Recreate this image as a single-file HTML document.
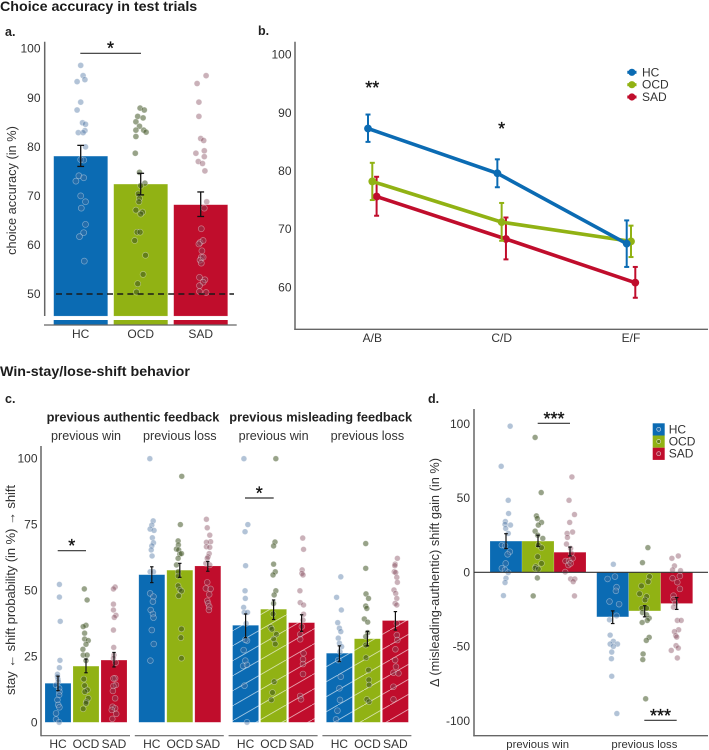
<!DOCTYPE html>
<html lang="en">
<head>
<meta charset="utf-8">
<title>Choice accuracy and win-stay/lose-shift behavior</title>
<style>
html,body{margin:0;padding:0;background:#fff;}
svg{display:block;filter:blur(0.35px);}
text{font-family:"Liberation Sans",sans-serif;fill:#333;}
.title{font-size:14.25px;font-weight:bold;fill:#1c1c1c;}
.plabel{font-size:12.5px;font-weight:bold;fill:#222;}
.axt{font-size:12.8px;}
.axc{font-size:13.2px;}
.tick{font-size:12px;}
.head{font-size:12.8px;font-weight:bold;fill:#222;}
.sub{font-size:12.6px;}
.subd{font-size:11.3px;}
.star{font-size:18px;fill:#111;stroke:#111;stroke-width:0.3px;}
</style>
</head>
<body>
<svg id="fig" xmlns="http://www.w3.org/2000/svg" width="709" height="750" viewBox="0 0 709 750">
<defs>
<pattern id="hatch" patternUnits="userSpaceOnUse" width="26" height="15">
<line x1="-2.6" y1="16.5" x2="28.6" y2="-1.5" stroke="#fff" stroke-opacity="0.62" stroke-width="0.9"/>
</pattern>
</defs>
<rect x="0" y="0" width="709" height="750" fill="#fff"/>
<text class="title" x="0" y="11">Choice accuracy in test trials</text>
<text class="title" x="0" y="376">Win-stay/lose-shift behavior</text>
<text class="plabel" x="5" y="36">a.</text>
<text class="plabel" x="258" y="35">b.</text>
<text class="plabel" x="5" y="403">c.</text>
<text class="plabel" x="428" y="403">d.</text>
<text class="axt" transform="translate(16,190.5) rotate(-90)" text-anchor="middle">choice accuracy (in %)</text>
<text class="axc" transform="translate(15,590) rotate(-90)" text-anchor="middle" textLength="210">stay ← shift probability (in %) → shift</text>
<text class="axt" transform="translate(439,572.5) rotate(-90)" text-anchor="middle">Δ (misleading-authentic) shift gain (in %)</text>
<text class="head" x="133" y="421.5" text-anchor="middle">previous authentic feedback</text>
<text class="head" x="320.7" y="421.5" text-anchor="middle">previous misleading feedback</text>
<g id="layer"></g>
</svg>
<script>
// ---------- Panel a ----------
const accCategories = ['HC', 'OCD', 'SAD'];
const accTicks = [50, 60, 70, 80, 90, 100];
const accMeans = [78.1, 72.4, 68.2];
const accErrLow = [76, 70.2, 65.8];
const accErrHigh = [80.3, 74.6, 70.8];
const accChance = 50;
const accPointsHC = [96.6,94.5,93.3,93.7,89.1,87.5,84.9,84.6,82.9,83.3,82.9,80,77.4,77.3,74.1,73,73.7,70,68.8,67.5,64.2,62.5,61.7,56.7];
const accJitterHC = [0,4,-6,7,0,-6,3,8,-4,7,4,8,0,5,-3,-8,5,0,8,1,8,5,-2,6];
const accPointsOCD = [87.9,87.5,86.2,85.9,85.1,84.2,83.4,83,83.4,82.1,78.7,74.8,72.6,72.1,70.4,69.5,68.8,67.1,66.7,66.3,62.6,62.6,60.9,57.9,54,52.1,50.4];
const accJitterOCD = [-1,6,-5,4,-8,-2,5,9,-8,-8,-9,-2,7,0,-4,-2,-3,-8,3,0,-6,-1,-10,8,4,-5,-7];
const accPointsSAD = [94.5,92.9,89.1,86.2,81.7,81.3,79.2,78.7,77,76.6,78,75.1,68.8,67.5,63.3,60.5,60.9,60.2,58.8,57.5,56.9,57.5,56.3,53.4,52.9,52.4,51.7,50.5,50.3];
const accJitterSAD = [9,-6,-3,-3,0,5,6,-8,-4,3,6,7,10,6,1,-1,4,-3,2,1,-1,4,1,-2,7,4,-2,-2,9];

// ---------- Panel b ----------
const lineCategories = ['A/B', 'C/D', 'E/F'];
const lineTicks = [60, 70, 80, 90, 100];
const lineHC = [87.3, 79.6, 67.5];
const lineHCLow = [85, 77.2, 63.5];
const lineHCHigh = [89.7, 82, 71.5];
const lineOCD = [78.2, 71.2, 67.9];
const lineOCDLow = [75, 68, 65.2];
const lineOCDHigh = [81.4, 74.5, 70.6];
const lineSAD = [75.6, 68.3, 60.8];
const lineSADLow = [72.3, 64.8, 58.2];
const lineSADHigh = [79, 72, 63.5];
const lineStars = ['**', '*', ''];

// ---------- Panel c ----------
const shiftFacets = ['previous win', 'previous loss', 'previous win', 'previous loss'];
const shiftTicks = [0, 25, 50, 75, 100];
const shiftMeansHC = [14.8, 56, 36.8, 26.2];
const shiftMeansOCD = [21.3, 57.7, 42.9, 31.7];
const shiftMeansSAD = [23.6, 59.3, 37.8, 38.6];
const shiftLowHC = [12, 53, 32.1, 23];
const shiftLowOCD = [18.8, 55, 39, 29];
const shiftLowSAD = [21, 57.3, 34.5, 35];
const shiftHighHC = [17.5, 59, 41.1, 29];
const shiftHighOCD = [24, 60.3, 46.4, 34.5];
const shiftHighSAD = [26.5, 61, 40.8, 42];
const shiftPointsHC = [
 [52.3,47.5,38.3,23.5,20.7,18.2,17.3,16.3,15.4,14.2,12.9,11.6,10.4,8.5,6.6,5.7,3.4,1.1,0],
 [100,76.4,74.8,73.3,72.8,70,68.1,66.9,65.4,63.1,57.1,57.1,48.9,47.7,45.8,42.6,41.1,39.7,35,29.7,23.4],
 [100,75,72.3,59.4,49.9,47,43.6,41.7,41.7,37.5,31,31.3,27.4,23.4,21.4,21.8,13.9,0],
 [55.2,47.4,42.6,37.8,35.7,34.4,31.9,30,28.7,26.8,23.6,17.3,12.9,8.5,4.4,1.1]];
const shiftJitterHC = [
 [5,5,8,7,5,-2,-2,0,1,-7,4,5,4,-2,1,5,-7,-7,4],
 [-7,5,0,-6,8,2,6,0,-2,1,-6,6,-6,6,4,-4,4,6,0,7,-5],
 [-6,8,-2,0,-2,-1,-7,-5,7,2,5,-1,-7,-1,-9,5,-4,5],
 [5,-10,7,-6,0,5,-4,0,8,2,-4,5,0,2,-7,-12]];
const shiftPointsOCD = [
 [50.6,46.4,36.8,36.3,33.8,31.6,31,29.6,27.7,25.5,25.5,23.4,16.4,13.9,12.3,11.6,9.1,7.8,7.2,5.1],
 [93.3,75,68.8,67.3,65.7,65.4,63.8,64,62.2,59.7,57.1,55.5,51.8,50.4,49.8,48,35.4,32.1,24.3],
 [100,68.4,66.9,60,57.1,55.9,49.9,48.3,45.1,41.1,36,35.3,33.4,31.6,29.7,15.4,11.3,8.5],
 [67.8,58.4,48.7,47,44.1,43.2,39.2,38,34,32.5,29.3,24.5,19.8,16.1,14.2,8.7,7.8]];
const shiftJitterOCD = [
 [-6,4,0,-10,-5,-5,8,0,-11,-10,4,0,-8,-5,5,-4,8,1,0,-10],
 [7,2,-6,-5,-12,-4,0,6,-6,-12,-6,-6,-6,0,6,-4,6,4,6],
 [8,5,0,0,6,-2,8,2,0,-2,-10,-6,10,0,6,2,-4,-8],
 [-6,-6,-5,4,-6,-2,-11,1,1,-6,-6,-5,4,5,6,-2,6]];
const shiftPointsSAD = [
 [51.3,50.6,44.8,42.6,40.6,39.8,35,28.4,25.5,24.3,22.6,16.7,16.6,14.2,13.8,11.9,9.1,5.9,5.3,4.7,3.2,1.3],
 [77,73.8,71,68.5,68.3,66.6,66.4,64,62.8,62.2,60.3,59.7,53.1,50.8,50.6,48.5,46.1,45.1,43.9,42.6],
 [69.9,65.6,57.8,56.5,55.9,49.9,45.4,44.5,41,38.8,36.3,33.4,31.5,26.2,23.9,22.1,18.3,10,8.7],
 [62.2,60,59.4,57.1,56.8,55,53.1,50.2,48.9,47,45.1,44.5,37.5,33.1,31.2,27.7,23.6,21.1,18.8,18.6,13.5,8.7]];
const shiftJitterSAD = [
 [4,-2,-2,-2,7,1,-2,-1,0,-2,6,4,-2,7,-2,-4,4,-5,4,-8,8,-6],
 [-5,-2,7,10,-5,-5,7,5,1,-2,-7,7,-2,-7,10,5,-2,1,5,4],
 [4,7,2,1,5,-6,-5,7,7,5,1,-5,-5,7,5,5,5,-5,-2],
 [7,-1,-2,-4,1,5,7,-5,1,5,-1,5,5,5,7,0,-1,2,-7,11,-7,-7]];

// ---------- Panel d ----------
const gainCategories = ['previous win', 'previous loss'];
const gainTicks = [-100, -50, 0, 50, 100];
const gainMeansHC = [21, -30];
const gainMeansOCD = [21, -26];
const gainMeansSAD = [13.5, -21];
const gainLowHC = [16, -34.5];
const gainLowOCD = [17.5, -30];
const gainLowSAD = [11, -25];
const gainHighHC = [26, -26];
const gainHighOCD = [25, -22.5];
const gainHighSAD = [17, -17];
const gainPointsHC = [
 [98.4,71.4,48.5,39.6,34.2,31.8,32.2,29.5,26.2,18.3,17.9,13.9,12.1,6,2.7,1.6,-0.2,-4,-6.9,-15.7],
 [5.4,-2.9,-4.5,-10,-12.5,-21.5,-19.7,-29.3,-32,-42.3,-46.5,-48.3,-48.3,-49.9,-53.7,-58.2,-70,-95.1]];
const gainJitterHC = [
 [13,-15,7,8,-2,14,-3,-1,7,-13,-3,12,5,-1,-13,-3,7,0,-3,-8],
 [2,7,-16,12,10,20,-10,12,-10,-8,2,-8,15,2,-3,-4,-3,13]];
const gainPointsOCD = [
 [90.8,53.7,38,36.2,33.6,31.8,27.7,25,22.8,18.3,16.6,10.5,6,3.8,2.7,2.2,-3.8,-15.9],
 [16.6,6.5,-2.9,-6.3,-9.2,-14.5,-16.3,-18.6,-24.2,-24.2,-27.1,-28.6,-30.9,-32.4,-33.8,-43.8,-45.9,-55,-58.8,-85.2]];
const gainJitterOCD = [
 [-9,10,-5,-2,11,1,-9,-1,15,1,11,-1,11,-7,-9,1,-2,-15],
 [10,-7,15,11,-10,-16,6,1,-9,6,-7,6,14,8,-8,14,5,-5,-6,3]];
const gainPointsSAD = [
 [64.2,48.5,38.9,33.6,27.1,26.2,23.5,19,16.1,12.8,7.6,7.6,4.9,9.4,6,0.2,-4.5,-4.5,-6.3,-15.9],
 [9.4,11,4.3,1.6,1.1,-2.5,-4,-6.7,-11.2,-15.7,-18.1,-20.8,-23.5,-32.4,-32.4,-38.7,-40,-42.7,-43.6,-49.4,-51,-52.6,-57.7]];
const gainJitterSAD = [
 [6,-3,14,-1,8,-9,-8,-11,2,4,-14,-3,-5,8,2,-15,2,15,10,14],
 [-15,5,-7,-13,12,10,-13,2,10,-10,-10,-5,-10,2,14,6,-7,-3,0,-2,5,-17,2]];

const groupNames = ['HC', 'OCD', 'SAD'];

// ---------- Styling ----------
const barColors = ['#0b6bb3', '#91b214', '#c00d2c'];
const pointFills = ['rgba(72,112,160,0.42)', 'rgba(58,78,28,0.52)', 'rgba(128,68,88,0.42)'];
const NS = 'http://www.w3.org/2000/svg';
const layer = document.getElementById('layer');

function mk(tag, attrs, name, parent) {
  const el = document.createElementNS(NS, tag);
  for (const k in attrs) el.setAttribute(k, attrs[k]);
  
  
  (parent || layer).appendChild(el);
  return el;
}
function line(x1, y1, x2, y2, stroke, w, name, extra) {
  return mk('line', Object.assign({x1, y1, x2, y2, stroke, 'stroke-width': w}, extra || {}), name);
}
function label(x, y, txt, cls, anchor, name) {
  const t = mk('text', {x, y, class: cls, 'text-anchor': anchor || 'middle'}, name);
  t.textContent = txt;
  return t;
}
function bar(x, w, y0, y1, fill, name) {
  return mk('rect', {x: x - w / 2, y: Math.min(y0, y1), width: w, height: Math.abs(y1 - y0), fill, stroke: 'rgba(255,255,255,0.25)', 'stroke-width': 0.6}, name);
}
function errbar(x, yLow, yHigh, cap, color, w, name) {
  const g = mk('g', {stroke: color, 'stroke-width': w, fill: 'none'}, name);
  mk('line', {x1: x, x2: x, y1: yLow, y2: yHigh}, name + '-stem', g);
  mk('line', {x1: x - cap, x2: x + cap, y1: yLow, y2: yLow}, name + '-cap-low', g);
  mk('line', {x1: x - cap, x2: x + cap, y1: yHigh, y2: yHigh}, name + '-cap-high', g);
  return g;
}
function dots(vals, jit, step, cx, yFn, g, r, name) {
  vals.forEach(function (v, i) {
    mk('circle', {cx: cx + (jit[i] || 0) / 100 * step, cy: yFn(v), r, fill: pointFills[g], stroke: 'rgba(255,255,255,0.4)', 'stroke-width': 0.7}, name + '-point');
  });
}
const AXIS = '#666';

// ---------- Draw panel a ----------
const yA = function (v) { return 294 - (v - 50) * 4.906; };
const xA = function (i) { return 80.7 + 60 * i; };
const accPoints = [accPointsHC, accPointsOCD, accPointsSAD];
const accJitter = [accJitterHC, accJitterOCD, accJitterSAD];
accCategories.forEach(function (c, i) {
  bar(xA(i), 54, yA(45.5), yA(accMeans[i]), barColors[i], 'bar-a-' + c);
  mk('rect', {x: xA(i) - 27, y: 320, width: 54, height: 5, fill: barColors[i]}, 'bar-stub-a-' + c);
  dots(accPoints[i], accJitter[i], 60, xA(i), yA, i, 3, 'a-' + c);
  errbar(xA(i), yA(accErrLow[i]), yA(accErrHigh[i]), 3.4, '#111', 1.3, 'error-bar-a-' + c);
  label(xA(i), 338, c, 'tick', 'middle', 'x-tick-a-' + c);
});
line(44.7, 41.7, 44.7, 316, AXIS, 1.5, 'y-axis-a');
line(44, 325, 236.7, 325, AXIS, 1.2, 'x-axis-a');
accTicks.forEach(function (t) { label(40.5, yA(t) + 4, t, 'tick', 'end', 'y-tick-a-' + t); });
line(56, yA(accChance), 234, yA(accChance), '#1a1a1a', 1.6, 'chance-line', {'stroke-dasharray': '6 4.2'});
line(80.3, 53.3, 141, 53.3, '#333', 1.2, 'significance-bar-a');
label(110.5, 54.7, '*', 'star', 'middle', 'significance-star-a');

// ---------- Draw panel b ----------
const yB = function (v) { return 287.3 - (v - 60) * 5.817; };
const xB = function (i) { return 372.3 + 129.35 * i; };
const dodge = [-4.3, 0, 4.3];
const lineSeries = [lineHC, lineOCD, lineSAD];
const lineLows = [lineHCLow, lineOCDLow, lineSADLow];
const lineHighs = [lineHCHigh, lineOCDHigh, lineSADHigh];
line(295, 41.7, 295, 330, AXIS, 1.5, 'y-axis-b');
line(294.3, 329.3, 708, 329.3, AXIS, 1.4, 'x-axis-b');
lineTicks.forEach(function (t) {
  label(291.5, yB(t) + 4, t, 'tick', 'end', 'y-tick-b-' + t);
});
lineCategories.forEach(function (c, i) {
  label(xB(i), 342, c, 'tick', 'middle', 'x-tick-b-' + c);
  if (lineStars[i]) label(xB(i), i === 0 ? 94 : 135, lineStars[i], 'star', 'middle', 'significance-stars-b-' + c);
});
[2, 1, 0].forEach(function (g) {
  const name = groupNames[g];
  const pts = lineSeries[g].map(function (v, i) { return (xB(i) + dodge[g]) + ',' + yB(v); }).join(' ');
  mk('polyline', {points: pts, fill: 'none', stroke: barColors[g], 'stroke-width': 3.6}, 'line-' + name);
  lineSeries[g].forEach(function (v, i) {
    const x = xB(i) + dodge[g];
    errbar(x, yB(lineLows[g][i]), yB(lineHighs[g][i]), 2.5, barColors[g], 2, 'error-bar-b-' + name + '-' + lineCategories[i]);
    mk('circle', {cx: x, cy: yB(v), r: 3.9, fill: barColors[g]}, 'point-b-' + name + '-' + lineCategories[i]);
  });
});
const legendBY = [72.3, 84.7, 97];
groupNames.forEach(function (n, g) {
  mk('line', {x1: 627.3, x2: 636.5, y1: legendBY[g], y2: legendBY[g], stroke: barColors[g], 'stroke-width': 3}, 'legend-b-line-' + n);
  mk('circle', {cx: 631.9, cy: legendBY[g], r: 3.6, fill: barColors[g]}, 'legend-b-dot-' + n);
  label(642, legendBY[g] + 4, n, 'tick', 'start', 'legend-b-label-' + n);
});

// ---------- Draw panel c ----------
const yC = function (v) { return 722.3 - v * 2.636; };
const xC = function (f, g) { return 58 + 93.8 * f + 28 * g; };
const shiftMeans = [shiftMeansHC, shiftMeansOCD, shiftMeansSAD];
const shiftLows = [shiftLowHC, shiftLowOCD, shiftLowSAD];
const shiftHighs = [shiftHighHC, shiftHighOCD, shiftHighSAD];
const shiftPoints = [shiftPointsHC, shiftPointsOCD, shiftPointsSAD];
const shiftJitter = [shiftJitterHC, shiftJitterOCD, shiftJitterSAD];
shiftFacets.forEach(function (facet, f) {
  label(xC(f, 1), 440, facet, 'sub', 'middle', 'facet-label-c-' + f);
  groupNames.forEach(function (n, g) {
    const x = xC(f, g);
    const y = yC(shiftMeans[g][f]);
    bar(x, 26, yC(0), y, barColors[g], 'bar-c-' + f + '-' + n);
    if (f >= 2) mk('rect', {x: x - 13, y: y, width: 26, height: yC(0) - y, fill: 'url(#hatch)'}, 'hatch-c-' + f + '-' + n);
    dots(shiftPoints[g][f], shiftJitter[g][f], 28, x, yC, g, 2.9, 'c-' + f + '-' + n);
    errbar(x, yC(shiftLows[g][f]), yC(shiftHighs[g][f]), 1.7, '#111', 1.2, 'error-bar-c-' + f + '-' + n);
    label(x, 748, n, 'tick', 'middle', 'x-tick-c-' + f + '-' + n);
  });
  line(xC(f, 0) - 17, 735.7, xC(f, 2) + 16, 735.7, AXIS, 1.1, 'x-axis-c-' + f);
});
line(41, 446, 41, 736.3, AXIS, 1.5, 'y-axis-c');
shiftTicks.forEach(function (t) { label(37.5, yC(t) + 4, t, 'tick', 'end', 'y-tick-c-' + t); });
line(57.7, 550.7, 86, 550.7, '#333', 1.2, 'significance-bar-c-1');
label(71.8, 552, '*', 'star', 'middle', 'significance-star-c-1');
line(245, 498, 273.7, 498, '#333', 1.2, 'significance-bar-c-2');
label(259.3, 499.5, '*', 'star', 'middle', 'significance-star-c-2');

// ---------- Draw panel d ----------
const yD = function (v) { return 572.3 - v * 1.485; };
const xD = function (c, g) { return 506 + 106.7 * c + 32 * g; };
const gainMeans = [gainMeansHC, gainMeansOCD, gainMeansSAD];
const gainLows = [gainLowHC, gainLowOCD, gainLowSAD];
const gainHighs = [gainHighHC, gainHighOCD, gainHighSAD];
const gainPoints = [gainPointsHC, gainPointsOCD, gainPointsSAD];
const gainJitter = [gainJitterHC, gainJitterOCD, gainJitterSAD];
gainCategories.forEach(function (c, k) {
  groupNames.forEach(function (n, g) {
    const x = xD(k, g);
    bar(x, 32, yD(0), yD(gainMeans[g][k]), barColors[g], 'bar-d-' + k + '-' + n);
  });
  groupNames.forEach(function (n, g) {
    const x = xD(k, g);
    dots(gainPoints[g][k], gainJitter[g][k], 32, x, yD, g, 2.9, 'd-' + k + '-' + n);
    errbar(x, yD(gainLows[g][k]), yD(gainHighs[g][k]), 1.8, '#111', 1.2, 'error-bar-d-' + k + '-' + n);
  });
  label(xD(k, 1) - 0.3, 748, c, 'subd', 'middle', 'x-tick-d-' + k);
});
line(474, 409, 474, 736.3, AXIS, 1.5, 'y-axis-d');
line(473.3, 735.7, 708, 735.7, AXIS, 1.3, 'x-axis-d');
line(474, yD(0), 708, yD(0), '#333', 1.2, 'zero-line-d');
gainTicks.forEach(function (t) { label(470, yD(t) + 4, t, 'tick', 'end', 'y-tick-d-' + t); });
line(537.7, 423.3, 570, 423.3, '#333', 1.2, 'significance-bar-d-win');
label(554, 425, '***', 'star', 'middle', 'significance-stars-d-win');
line(644.3, 720.3, 676.7, 720.3, '#333', 1.2, 'significance-bar-d-loss');
label(660.5, 722, '***', 'star', 'middle', 'significance-stars-d-loss');
const legendDY = [423.3, 435.5, 447.7];
groupNames.forEach(function (n, g) {
  mk('rect', {x: 652.7, y: legendDY[g], width: 12, height: 12.2, fill: barColors[g]}, 'legend-d-swatch-' + n);
  mk('circle', {cx: 658.7, cy: legendDY[g] + 6, r: 2, fill: pointFills[g], stroke: 'rgba(255,255,255,0.7)', 'stroke-width': 0.7}, 'legend-d-dot-' + n);
  label(668.7, legendDY[g] + 10, n, 'tick', 'start', 'legend-d-label-' + n);
});
</script>
</body>
</html>
